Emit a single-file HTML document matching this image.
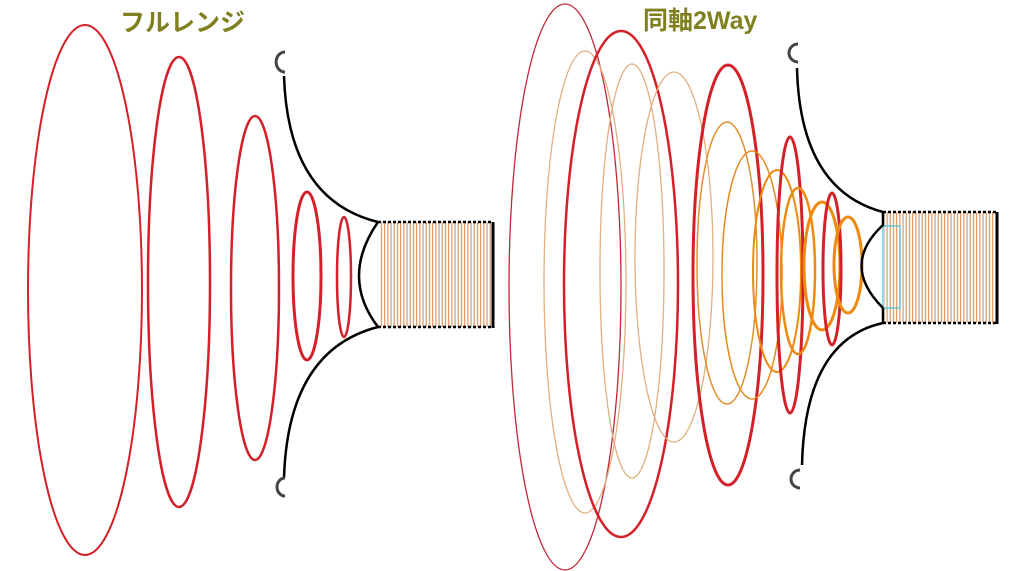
<!DOCTYPE html>
<html><head><meta charset="utf-8"><style>
html,body{margin:0;padding:0;background:#fff;}
svg{display:block}
text{font-family:"Liberation Sans","Noto Sans CJK JP",sans-serif;font-weight:bold;fill:#808020;}
</style></head><body>
<svg width="1024" height="571" viewBox="0 0 1024 571" xmlns="http://www.w3.org/2000/svg">
<defs>
<pattern id="coil" width="3.2" height="10" patternUnits="userSpaceOnUse">
<rect x="0" y="0" width="1.3" height="10" fill="#e0a070"/>
</pattern>
</defs>
<text x="120" y="31" font-size="25">フルレンジ</text>
<text x="643" y="29" font-size="25">同軸2Way</text>

<!-- LEFT -->
<g fill="none" stroke="#d42028">
<ellipse cx="85" cy="290" rx="57" ry="265" stroke-width="2"/>
<ellipse cx="179" cy="282" rx="31" ry="225" stroke-width="2.5"/>
<ellipse cx="255" cy="288" rx="24" ry="172" stroke-width="2.5"/>
<ellipse cx="307" cy="276" rx="14" ry="84" stroke-width="3"/>
<ellipse cx="344" cy="277" rx="7" ry="60" stroke-width="2.5"/>
</g>
<rect x="379" y="222" width="112" height="105" fill="url(#coil)"/>
<g fill="none" stroke="#000" stroke-width="2.5">
<path d="M284 76 Q288 200 378 222"/>
<path d="M284 478 Q288 350 378 327"/>
<path d="M378 222 Q340 277 378 327"/>
<line x1="378" y1="222" x2="492" y2="222" stroke-dasharray="3 2"/>
<line x1="378" y1="327" x2="492" y2="327" stroke-dasharray="3 2"/>
<line x1="493" y1="222" x2="493" y2="328" stroke-width="3"/>
</g>
<g fill="none" stroke="#444" stroke-width="3">
<path d="M285 52 A8 9 0 0 0 285 72"/>
<path d="M285 478 A8 9 0 0 0 285 496"/>
</g>

<!-- RIGHT -->
<g fill="none">
<ellipse cx="565" cy="287" rx="56" ry="283" stroke="#c02838" stroke-width="1.3"/>
<ellipse cx="585" cy="282" rx="41" ry="231" stroke="#e0b080" stroke-width="1.3"/>
<ellipse cx="621" cy="284" rx="57" ry="253" stroke="#d42028" stroke-width="2.5"/>
<ellipse cx="632" cy="271" rx="32" ry="207" stroke="#e0b080" stroke-width="1.3"/>
<ellipse cx="674" cy="257" rx="39" ry="185" stroke="#e0b080" stroke-width="1.3"/>
<ellipse cx="728" cy="275" rx="35" ry="210" stroke="#d42028" stroke-width="3"/>
<ellipse cx="727" cy="263" rx="30" ry="141" stroke="#e09030" stroke-width="1.5"/>
<ellipse cx="752" cy="275" rx="30" ry="124" stroke="#e58a20" stroke-width="1.5"/>
<ellipse cx="777" cy="271" rx="24" ry="101" stroke="#ee8a10" stroke-width="2"/>
<ellipse cx="790" cy="275" rx="13" ry="138" stroke="#d42028" stroke-width="3"/>
<ellipse cx="798" cy="271" rx="17" ry="83" stroke="#ee8a10" stroke-width="2.5"/>
<ellipse cx="822" cy="266" rx="18" ry="64" stroke="#ee8a10" stroke-width="3"/>
<ellipse cx="832" cy="269" rx="9" ry="76" stroke="#d42028" stroke-width="3"/>
<ellipse cx="848" cy="265" rx="14" ry="48" stroke="#ee8a10" stroke-width="3"/>
</g>
<rect x="884" y="212" width="111" height="111" fill="url(#coil)"/>
<rect x="883" y="226" width="17" height="82" fill="none" stroke="#40c0e0" stroke-width="1.2"/>
<g fill="none" stroke="#000" stroke-width="2.5">
<path d="M797 68 Q800 190 883 212"/>
<path d="M802 465 Q805 340 883 323"/>
<path d="M883 225 Q840 265 883 308"/>
<line x1="883" y1="212" x2="996" y2="212" stroke-dasharray="3 2"/>
<line x1="883" y1="323" x2="996" y2="323" stroke-dasharray="3 2"/>
<line x1="997" y1="212" x2="997" y2="324" stroke-width="3"/>
<line x1="883" y1="212" x2="883" y2="226"/>
<line x1="883" y1="308" x2="883" y2="323"/>
</g>
<g fill="none" stroke="#444" stroke-width="3">
<path d="M798 44 A8 8 0 0 0 798 62"/>
<path d="M800 470 A8 8 0 0 0 800 488"/>
</g>
</svg>
</body></html>
